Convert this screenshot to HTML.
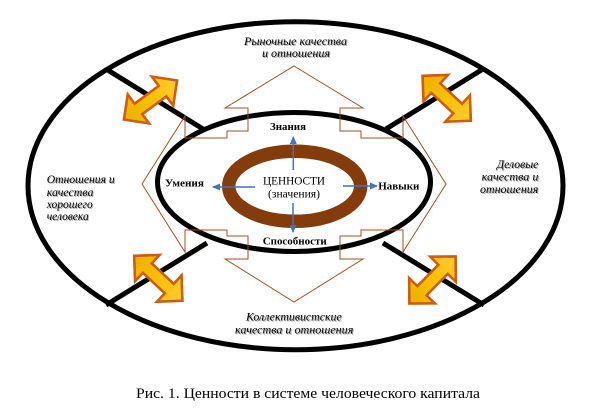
<!DOCTYPE html>
<html><head><meta charset="utf-8"><style>
html,body{margin:0;padding:0;background:#fff;}
svg{display:block;}
.it{font-family:"Liberation Serif","Noto Serif CJK SC",serif;font-style:italic;font-size:12px;fill:#000;text-shadow:1px 1px 0 #a8a8a8;}
.bd{font-family:"Liberation Serif","Noto Serif CJK SC",serif;font-weight:bold;font-size:11px;fill:#000;}
.rg{font-family:"Liberation Serif","Noto Serif CJK SC",serif;font-size:12px;fill:#000;}
.cap{font-family:"Liberation Serif","Noto Serif CJK SC",serif;font-size:15px;fill:#000;}
</style></head><body>
<svg width="608" height="413" viewBox="0 0 608 413" xmlns="http://www.w3.org/2000/svg">
<defs>
<linearGradient id="og" x1="0" y1="0" x2="1" y2="0">
<stop offset="0" stop-color="#EBAE00"/>
<stop offset="0.5" stop-color="#FCC000"/>
<stop offset="1" stop-color="#FFCB35"/>
</linearGradient>
<g id="dar">
<polygon points="-33,0 -15,-18 -15,-6.5 15,-6.5 15,-18 33,0 15,18 15,6.5 -15,6.5 -15,18" fill="url(#og)" stroke="#CB5E16" stroke-width="2.6" stroke-linejoin="miter"/>
</g>
<marker id="bh" markerWidth="8" markerHeight="8" refX="7" refY="4" orient="auto" markerUnits="userSpaceOnUse">
<path d="M0,0.5 L8,4 L0,7.5 Z" fill="#4472C4"/>
</marker>
</defs>

<!-- outer ellipse -->
<ellipse cx="295.5" cy="185.7" rx="267.5" ry="164" fill="none" stroke="#000" stroke-width="5"/>

<!-- black diagonal lines -->
<g stroke="#000" stroke-width="5" stroke-linecap="butt">
<line x1="106" y1="69" x2="203" y2="129"/>
<line x1="483" y1="69" x2="386" y2="129"/>
<line x1="106" y1="305" x2="207" y2="243"/>
<line x1="484" y1="305" x2="383" y2="243"/>
</g>

<!-- inner ellipse -->
<ellipse cx="294" cy="182" rx="136.5" ry="69.5" fill="none" stroke="#000" stroke-width="5"/>

<!-- brown ring -->
<ellipse cx="294.7" cy="186.3" rx="66" ry="35" fill="none" stroke="#843C0C" stroke-width="13.5"/>

<!-- brown quad arrow outline -->
<polygon fill="none" stroke="#9E5126" stroke-width="1" points="294,66 363,108 340,108 340,131 361,131 361,138 403,138 403,116 446,184 403,252 403,230 361,230 361,236 340,236 340,259 363,259 294,302 225,259 248,259 248,236 227,236 227,230 185,230 185,252 142,184 185,116 185,138 227,138 227,131 248,131 248,108 225,108"/>

<!-- orange double arrows -->
<use href="#dar" transform="translate(150.5,100) rotate(-36.4)"/>
<use href="#dar" transform="translate(446.7,98.3) rotate(43)"/>
<use href="#dar" transform="translate(158.3,278.3) rotate(43)"/>
<use href="#dar" transform="translate(432.5,280) rotate(-45.5)"/>

<!-- blue arrows -->
<g stroke="#4472C4" stroke-width="1.5" fill="none">
<line x1="293.3" y1="170" x2="293.3" y2="137" marker-end="url(#bh)"/>
<line x1="293" y1="203" x2="293" y2="232" marker-end="url(#bh)"/>
<line x1="255" y1="187" x2="213" y2="187" marker-end="url(#bh)"/>
<line x1="343" y1="186" x2="377" y2="186" marker-end="url(#bh)"/>
</g>

<!-- center text -->
<text class="rg" x="263" y="184.5" textLength="62" lengthAdjust="spacingAndGlyphs">ЦЕННОСТИ</text>
<text class="rg" x="268" y="197.5" textLength="52" lengthAdjust="spacingAndGlyphs">(значения)</text>

<!-- bold labels -->
<text class="bd" x="270" y="130" textLength="36" lengthAdjust="spacingAndGlyphs">Знания</text>
<text class="bd" x="165" y="186.5" textLength="39" lengthAdjust="spacingAndGlyphs">Умения</text>
<text class="bd" x="378.3" y="189.5" textLength="41" lengthAdjust="spacingAndGlyphs">Навыки</text>
<text class="bd" x="262.7" y="244.5" textLength="64" lengthAdjust="spacingAndGlyphs">Способности</text>

<!-- italic region texts -->
<text class="it" x="244" y="45" textLength="103" lengthAdjust="spacingAndGlyphs">Рыночные качества</text>
<text class="it" x="262" y="57" textLength="68" lengthAdjust="spacingAndGlyphs">и отношения</text>

<text class="it" x="46.7" y="183" textLength="68" lengthAdjust="spacingAndGlyphs">Отношения и</text>
<text class="it" x="46.7" y="196" textLength="46.7" lengthAdjust="spacingAndGlyphs">качества</text>
<text class="it" x="46.7" y="208" textLength="46" lengthAdjust="spacingAndGlyphs">хорошего</text>
<text class="it" x="46.7" y="220" textLength="42" lengthAdjust="spacingAndGlyphs">человека</text>

<text class="it" x="496.7" y="168" textLength="41.7" lengthAdjust="spacingAndGlyphs">Деловые</text>
<text class="it" x="481.7" y="180.5" textLength="56.7" lengthAdjust="spacingAndGlyphs">качества и</text>
<text class="it" x="480" y="193" textLength="58.3" lengthAdjust="spacingAndGlyphs">отношения</text>

<text class="it" x="246" y="320.5" textLength="95.7" lengthAdjust="spacingAndGlyphs">Коллективистские</text>
<text class="it" x="235" y="333.5" textLength="118.3" lengthAdjust="spacingAndGlyphs">качества и отношения</text>

<!-- caption -->
<text class="cap" x="136" y="398" textLength="344" lengthAdjust="spacingAndGlyphs">Рис. 1. Ценности в системе человеческого капитала</text>
</svg>
</body></html>
